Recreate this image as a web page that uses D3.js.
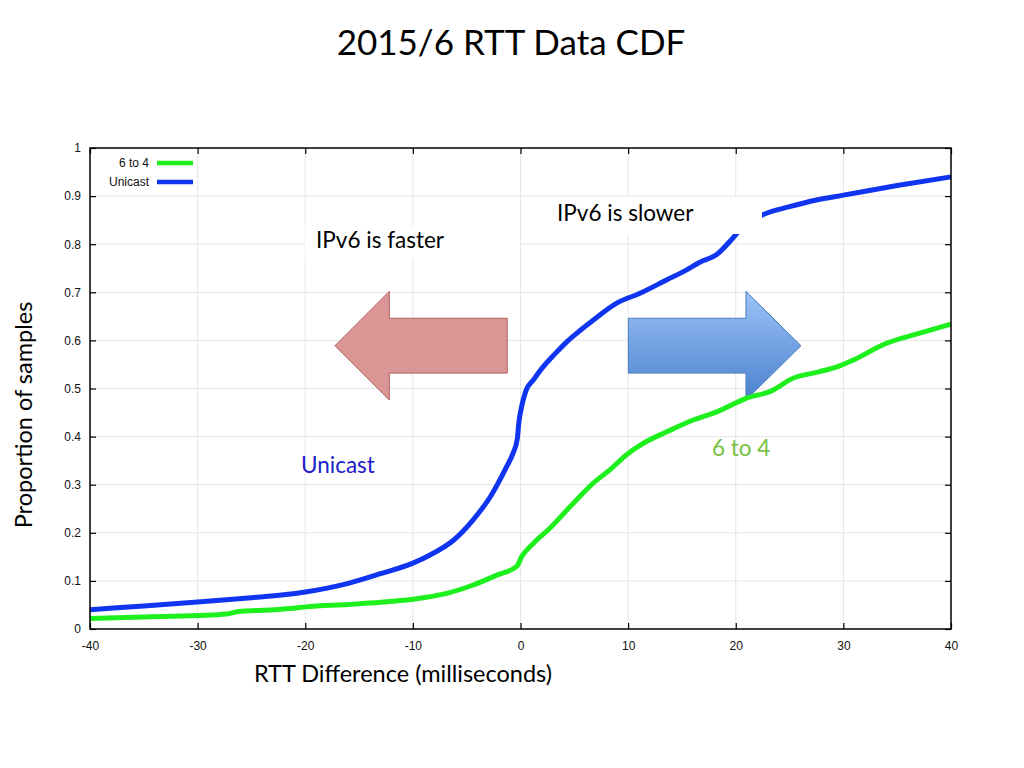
<!DOCTYPE html>
<html>
<head>
<meta charset="utf-8">
<script src="https://cdn.jsdelivr.net/npm/d3@7"></script>
<style>
  html, body { margin: 0; padding: 0; background: #fff; }
  svg { display: block; }
</style>
</head>
<body>
<svg id="chart" width="1024" height="768"></svg>
<script>
// ---------------- DATA ----------------
const seriesNames = ["6 to 4", "Unicast"];
const seriesColors = ["#1ef01e", "#0f35f0"];

const unicastX = [-40, -35, -30, -25, -22, -20, -16, -13, -10, -8.4, -6.2, -4.4, -2.8, -1.3, -0.7, -0.3, -0.15, 0.1, 0.5, 1.2, 2.1, 3.2, 4.3, 5.5, 6.75, 8.9, 11.1, 13.6, 15.4, 16.7, 18.2, 19.7, 20.5, 22.5, 25, 27.5, 30, 35, 40];
const unicastY = [0.040, 0.048, 0.056, 0.065, 0.071, 0.077, 0.095, 0.115, 0.137, 0.154, 0.185, 0.227, 0.275, 0.337, 0.365, 0.395, 0.43, 0.462, 0.495, 0.518, 0.545, 0.572, 0.597, 0.62, 0.642, 0.677, 0.698, 0.726, 0.746, 0.763, 0.778, 0.812, 0.832, 0.861, 0.878, 0.892, 0.902, 0.922, 0.940];

const sixToFourX = [-40, -35, -30, -27.3, -26.3, -23, -21.1, -20, -16, -13, -10, -6.85, -4.4, -2.2, -0.35, 0.1, 1.2, 2.7, 4.6, 6.75, 8.3, 10, 11.4, 13.6, 16.1, 18.3, 21, 23.5, 24.1, 25, 27.8, 29.4, 30.9, 34, 37.1, 40];
const sixToFourY = [0.022, 0.025, 0.028, 0.031, 0.036, 0.040, 0.043, 0.046, 0.051, 0.0555, 0.062, 0.074, 0.0915, 0.112, 0.13, 0.15, 0.178, 0.209, 0.254, 0.303, 0.331, 0.365, 0.386, 0.41, 0.435, 0.452, 0.48, 0.497, 0.505, 0.518, 0.535, 0.545, 0.559, 0.594, 0.615, 0.634];

const xTicks = [-40, -30, -20, -10, 0, 10, 20, 30, 40];
const yTicks = [0, 0.1, 0.2, 0.3, 0.4, 0.5, 0.6, 0.7, 0.8, 0.9, 1];

const titleText = "2015/6 RTT Data CDF";
const xLabel = "RTT Difference (milliseconds)";
const yLabel = "Proportion of samples";

// ---------------- LAYOUT ----------------
const svg = d3.select("#chart");
const plot = { left: 90, right: 951, top: 148, bottom: 629 };
const x = d3.scaleLinear().domain([-40, 40]).range([plot.left, plot.right]);
const y = d3.scaleLinear().domain([0, 1]).range([plot.bottom, plot.top]);

const calib = "Lato, 'Open Sans', sans-serif";
const helv = "'Liberation Sans', Arial, sans-serif";

// title
svg.append("text").attr("x", 511).attr("y", 55).attr("text-anchor", "middle")
  .attr("font-family", calib).attr("font-size", 35).attr("fill", "#000").text(titleText);

// grid
const g = svg.append("g");
g.selectAll(".gx").data(xTicks.slice(1, -1)).join("line")
  .attr("x1", d => x(d)).attr("x2", d => x(d)).attr("y1", plot.top).attr("y2", plot.bottom)
  .attr("stroke", "#e6e6e6").attr("stroke-width", 1);
g.selectAll(".gy").data(yTicks.slice(1, -1)).join("line")
  .attr("y1", d => y(d)).attr("y2", d => y(d)).attr("x1", plot.left).attr("x2", plot.right)
  .attr("stroke", "#e6e6e6").attr("stroke-width", 1);

// arrows (annotation shapes in data units)
const defs = svg.append("defs");
const grad = defs.append("linearGradient").attr("id", "blueGrad").attr("x1", 0).attr("y1", 0).attr("x2", 0).attr("y2", 1);
grad.append("stop").attr("offset", "0%").attr("stop-color", "#9cc3f7");
grad.append("stop").attr("offset", "100%").attr("stop-color", "#4a82cf");

const arrowY = { tip: 0.589, headTop: 0.702, headBot: 0.476, bodyTop: 0.646, bodyBot: 0.532 };
const leftArrow = { tip: -17.24, neck: -12.19, tail: -1.23 };
const rightArrow = { tail: 10.02, neck: 20.95, tip: 26.06 };

function arrowPath(tip, neck, tail) {
  const pts = [
    [tip, arrowY.tip], [neck, arrowY.headTop], [neck, arrowY.bodyTop], [tail, arrowY.bodyTop],
    [tail, arrowY.bodyBot], [neck, arrowY.bodyBot], [neck, arrowY.headBot]
  ];
  return "M" + pts.map(p => x(p[0]) + "," + y(p[1])).join("L") + "Z";
}
svg.append("path").attr("d", arrowPath(leftArrow.tip, leftArrow.neck, leftArrow.tail))
  .attr("fill", "#d99694").attr("stroke", "#b0615e").attr("stroke-width", 1);
svg.append("path").attr("d", arrowPath(rightArrow.tip, rightArrow.neck, rightArrow.tail))
  .attr("fill", "url(#blueGrad)").attr("stroke", "#4a7ebb").attr("stroke-width", 1);

// curves
const line = d3.line().x(d => x(d[0])).y(d => y(d[1])).curve(d3.curveMonotoneX);
const series = [
  { name: seriesNames[0], color: seriesColors[0], pts: d3.zip(sixToFourX, sixToFourY) },
  { name: seriesNames[1], color: seriesColors[1], pts: d3.zip(unicastX, unicastY) }
];
svg.selectAll(".curve").data(series).join("path")
  .attr("d", d => line(d.pts)).attr("fill", "none")
  .attr("stroke", d => d.color).attr("stroke-width", 5).attr("stroke-linejoin", "round");

// annotation text boxes
svg.append("rect").attr("x", 305).attr("y", 226).attr("width", 215).attr("height", 32).attr("fill", "#fff");
svg.append("rect").attr("x", 545).attr("y", 197).attr("width", 217).attr("height", 37).attr("fill", "#fff");

const annFont = 22.5;
svg.append("text").attr("x", 316).attr("y", 248).attr("font-family", calib).attr("font-size", annFont)
  .attr("fill", "#000").text("IPv6 is faster");
svg.append("text").attr("x", 557).attr("y", 220.5).attr("font-family", calib).attr("font-size", annFont)
  .attr("fill", "#000").text("IPv6 is slower");
svg.append("text").attr("x", 301).attr("y", 473).attr("font-family", calib).attr("font-size", annFont)
  .attr("fill", "#2020c8").text("Unicast");
svg.append("text").attr("x", 712).attr("y", 455.5).attr("font-family", calib).attr("font-size", annFont)
  .attr("fill", "#78c044").text("6 to 4");

// frame
svg.append("rect").attr("x", plot.left).attr("y", plot.top)
  .attr("width", plot.right - plot.left).attr("height", plot.bottom - plot.top)
  .attr("fill", "none").attr("stroke", "#000").attr("stroke-width", 1.5);

// axes
const axB = svg.append("g").attr("transform", `translate(0,${plot.bottom})`)
  .call(d3.axisBottom(x).tickValues(xTicks).tickSizeInner(-6).tickSizeOuter(0).tickPadding(12).tickFormat(d => String(d)));
const axT = svg.append("g").attr("transform", `translate(0,${plot.top})`)
  .call(d3.axisTop(x).tickValues(xTicks).tickSizeInner(-6).tickSizeOuter(0).tickFormat(""));
const axL = svg.append("g").attr("transform", `translate(${plot.left},0)`)
  .call(d3.axisLeft(y).tickValues(yTicks).tickSizeInner(-6).tickSizeOuter(0).tickPadding(9).tickFormat(d => String(+d.toFixed(1))));
const axR = svg.append("g").attr("transform", `translate(${plot.right},0)`)
  .call(d3.axisRight(y).tickValues(yTicks).tickSizeInner(-6).tickSizeOuter(0).tickFormat(""));
[axB, axT, axL, axR].forEach(a => {
  a.select(".domain").remove();
  a.selectAll(".tick line").attr("stroke", "#000").attr("stroke-width", 1.2);
  a.selectAll("text").attr("font-family", helv).attr("font-size", 12).attr("fill", "#111");
});

// legend
const legend = svg.append("g");
series.forEach((s, i) => {
  const ly = 163 + i * 19;
  legend.append("text").attr("x", 149).attr("y", ly).attr("dy", "0.35em").attr("text-anchor", "end")
    .attr("font-family", helv).attr("font-size", 12).attr("fill", "#111").text(s.name);
  legend.append("line").attr("x1", 157).attr("x2", 193).attr("y1", ly).attr("y2", ly)
    .attr("stroke", s.color).attr("stroke-width", 4.5);
});

// axis labels
svg.append("text").attr("x", 403).attr("y", 682).attr("text-anchor", "middle")
  .attr("font-family", calib).attr("font-size", 23.5).attr("fill", "#000").text(xLabel);
svg.append("text").attr("transform", "translate(32,415) rotate(-90)").attr("text-anchor", "middle")
  .attr("font-family", calib).attr("font-size", 23.5).attr("fill", "#000").text(yLabel);
</script>
</body>
</html>
